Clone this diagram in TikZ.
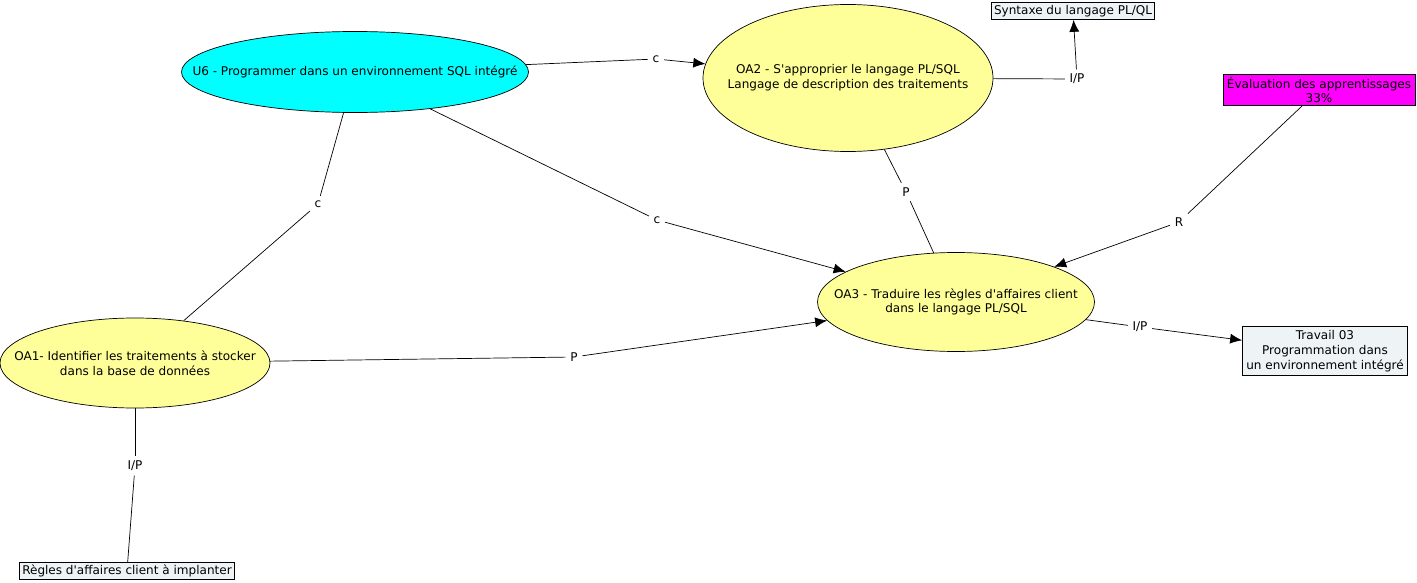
\documentclass[tikz,border=0pt]{standalone}
\usepackage{fontspec}
\setmainfont{DejaVu Sans}[Ligatures=TeXOff]
\usetikzlibrary{shapes.geometric,arrows.meta}
\definecolor{conceptYellow}{RGB}{255,255,153}
\definecolor{conceptCyan}{RGB}{0,255,255}
\definecolor{evalMagenta}{RGB}{255,0,255}
\definecolor{resFill}{RGB}{238,244,246}

\begin{document}
\begin{tikzpicture}[
    font=\fontsize{6.85}{8.4}\selectfont,
    concept/.style={ellipse, draw, fill=conceptYellow, inner sep=0pt},
    ctext/.style={label={[align=center]center:#1}},
    resource/.style={rectangle, draw, fill=resFill, align=center, inner sep=1.5pt},
    link/.style={fill=white, inner sep=2.5pt},
    arrow/.style={-{Latex[length=2.4mm,width=2mm]}}
]
\useasboundingbox (0,0) rectangle (28.34,-11.66);
% concepts
\node[concept, fill=conceptCyan, minimum width=6.94cm, minimum height=1.62cm,
      ctext={U6 - Programmer dans un environnement SQL intégré}] (u6) at (7.10,-1.44) {};
\node[concept, minimum width=5.8cm, minimum height=2.94cm,
      ctext={OA2 - S'approprier le langage PL/SQL\\Langage de description des traitements}] (oa2) at (16.96,-1.56) {};
\node[concept, minimum width=5.54cm, minimum height=1.98cm,
      ctext={OA3 - Traduire les règles d'affaires client\\dans le langage PL/SQL}] (oa3) at (19.12,-6.04) {};
\node[concept, minimum width=5.4cm, minimum height=1.8cm,
      ctext={OA1- Identifier les traitements à stocker\\dans la base de données}] (oa1) at (2.70,-7.26) {};
% resources
\node[resource] (syntaxe) at (21.46,-0.22) {Syntaxe du langage PL/QL};
\node[resource, fill=evalMagenta, minimum width=3.84cm] (eval) at (26.38,-1.80) {Évaluation des apprentissages\\33\%};
\node[resource, minimum width=3.3cm, minimum height=0.98cm] (travail) at (26.50,-7.02) {Travail 03\\Programmation dans\\un environnement intégré};
\node[resource] (regles) at (2.54,-11.42) {Règles d'affaires client à implanter};
% link labels
\node[link] (c1) at (13.12,-1.18) {c};
\node[link] (c2) at (6.36,-4.08) {c};
\node[link] (c3) at (13.14,-4.40) {c};
\node[link] (p1) at (18.12,-3.84) {P};
\node[link] (ip1) at (21.54,-1.58) {I/P};
\node[link] (r1) at (23.58,-4.44) {R};
\node[link] (p2) at (11.48,-7.14) {P};
\node[link] (ip2) at (22.80,-6.54) {I/P};
\node[link] (ip3) at (2.70,-9.32) {I/P};
% connectors
\draw (u6) -- (c1);
\draw[arrow] (c1) -- (oa2);
\draw (u6) -- (c2);
\draw (c2) -- (oa1);
\draw (u6) -- (c3);
\draw[arrow] (c3) -- (oa3);
\draw (oa2) -- (p1);
\draw (p1) -- (oa3);
\draw (oa2) -- (ip1);
\draw[arrow] (ip1) -- (syntaxe);
\draw (eval) -- (r1);
\draw[arrow] (r1) -- (oa3);
\draw (oa1) -- (p2);
\draw[arrow] (p2) -- (oa3);
\draw (oa3) -- (ip2);
\draw[arrow] (ip2) -- (travail);
\draw (oa1) -- (ip3);
\draw (ip3) -- (regles);
\end{tikzpicture}
\end{document}
